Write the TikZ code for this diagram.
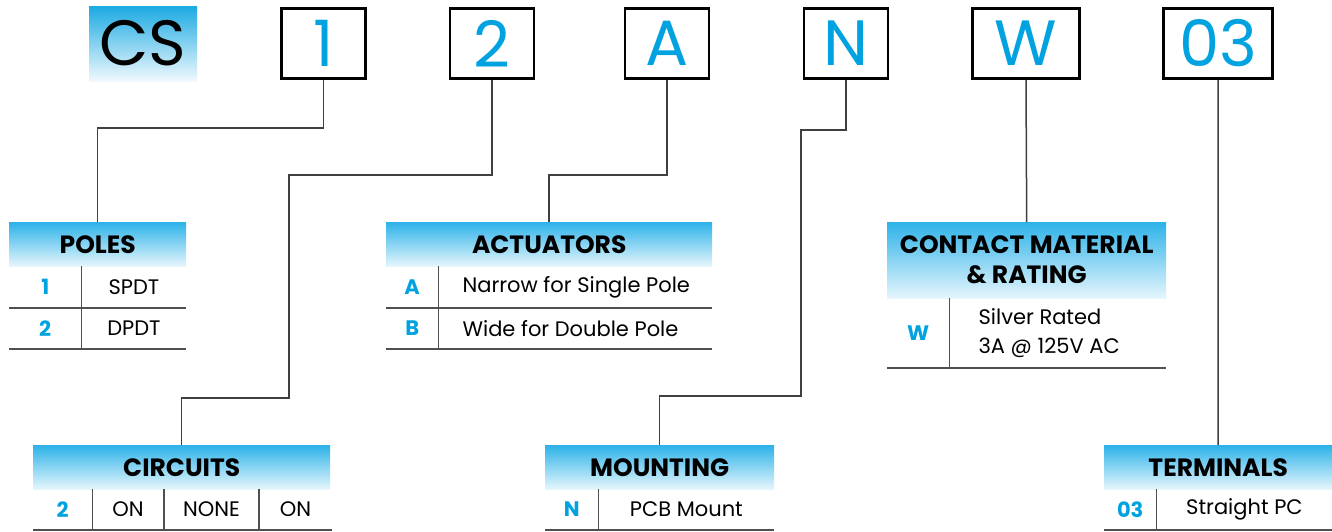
\documentclass[tikz,border=0pt]{standalone}
\usepackage{fontspec}
\setmainfont{Poppins}
\usetikzlibrary{calc}
\definecolor{codeblue}{RGB}{0,163,224}
\definecolor{headtop}{RGB}{45,178,232}
\definecolor{headbot}{RGB}{230,246,253}
\definecolor{cstop}{RGB}{27,170,226}
\definecolor{csbot}{RGB}{240,249,253}
\definecolor{wirecol}{RGB}{64,64,64}
\definecolor{rulecol}{RGB}{80,80,80}

\begin{document}
\begin{tikzpicture}[x=1pt,y=-1pt]

\tikzset{codebox/.style = {draw, line width=2.7pt, minimum width=84pt, minimum height=70pt, inner sep=0pt, text=codeblue, font=\fontsize{64}{64}\selectfont}}
\tikzset{csbox/.style = {minimum width=108pt, minimum height=75pt, inner sep=0pt, top color=cstop, bottom color=csbot, font=\fontsize{64}{64}\selectfont}}
\tikzset{head/.style = {anchor=north west, inner sep=0pt, top color=headtop, bottom color=headbot, font=\bfseries\fontsize{25}{30}\selectfont, align=center}}
\tikzset{cell/.style = {anchor=north west, inner sep=0pt, minimum height=41pt, font=\fontsize{21}{24}\selectfont}}
\tikzset{code/.style = {cell, text=codeblue, font=\bfseries\fontsize{21}{21}\selectfont}}
\tikzset{desc/.style = {inner sep=0pt, font=\fontsize{21}{29}\selectfont}}
\tikzset{wire/.style = {draw=wirecol, line width=1.5pt}}
\tikzset{rule/.style = {draw=rulecol, line width=1.8pt}}

\fill[white] (0,0) rectangle (1332,531);
\useasboundingbox (0,0) rectangle (1332,531);

%part number
\node[csbox] (cs) at (143,43.5) {CS};
\node[codebox] (b1) at (323.5,43.5) {1};
\node[codebox] (b2) at (492,43.5) {2};
\node[codebox] (bA) at (667,43.5) {A};
\node[codebox] (bN) at (846,43.5) {N};
\node[codebox, minimum width=107pt] (bW) at (1026,43.5) {W};
\node[codebox, minimum width=109pt] (b03) at (1218,43.5) {03};

%poles
\node[head, minimum width=177pt, minimum height=44pt] (poles) at (9,222) {POLES};
\node[code, minimum width=72pt] (p1) at (poles.south west) {1};
\node[code, minimum width=72pt] (p2) at (p1.south west) {2};
\node[desc] (p1t) at ($(p1.east)!0.5!(p1.east -| poles.east)$) {SPDT};
\node[desc] (p2t) at ($(p2.east)!0.5!(p2.east -| poles.east)$) {DPDT};
\draw[rule] (p1.south west) -- (p1.south west -| poles.east);
\draw[rule] (p2.south west) -- (p2.south west -| poles.east);
\draw[rule] (p1.north east) -- (p2.south east);

%actuators
\node[head, minimum width=326pt, minimum height=44pt] (actuators) at (386,222) {ACTUATORS};
\node[code, minimum width=52pt] (a1) at (actuators.south west) {A};
\node[code, minimum width=52pt] (a2) at (a1.south west) {B};
\node[desc, anchor=west] (a1t) at ($(a1.east)+(24,0)$) {Narrow for Single Pole};
\node[desc, anchor=west] (a2t) at ($(a2.east)+(24,0)$) {Wide for Double Pole};
\draw[rule] (a1.south west) -- (a1.south west -| actuators.east);
\draw[rule] (a2.south west) -- (a2.south west -| actuators.east);
\draw[rule] (a1.north east) -- (a2.south east);

%contact material
\node[head, minimum width=279pt, minimum height=76pt] (contact) at (887,222) {CONTACT MATERIAL\\\& RATING};
\node[code, minimum width=62pt, minimum height=69pt] (c1) at (contact.south west) {W};
\node[desc, anchor=west, align=left] (c1t) at ($(c1.east)+(29,0)$) {Silver Rated\\3A @ 125V AC};
\draw[rule] (c1.south west) -- (c1.south west -| contact.east);
\draw[rule] (c1.north east) -- (c1.south east);

%circuits
\node[head, minimum width=297pt, minimum height=44pt] (circuits) at (33,445) {CIRCUITS};
\node[code, minimum width=59pt, minimum height=40pt] (r1) at (circuits.south west) {2};
\node[cell, minimum width=71pt, minimum height=40pt] (r2) at (r1.north east) {ON};
\node[cell, minimum width=95pt, minimum height=40pt] (r3) at (r2.north east) {NONE};
\node[cell, minimum width=72pt, minimum height=40pt] (r4) at (r3.north east) {ON};
\draw[rule] (r1.south west) -- (r4.south east);
\draw[rule] (r1.north east) -- (r1.south east);
\draw[rule] (r2.north east) -- (r2.south east);
\draw[rule] (r3.north east) -- (r3.south east);

%mounting
\node[head, minimum width=229pt, minimum height=44pt] (mounting) at (545,445) {MOUNTING};
\node[code, minimum width=53pt, minimum height=40pt] (m1) at (mounting.south west) {N};
\node[desc] (m1t) at ($(m1.east)!0.5!(m1.east -| mounting.east)$) {PCB Mount};
\draw[rule] (m1.south west) -- (m1.south west -| mounting.east);
\draw[rule] (m1.north east) -- (m1.south east);

%terminals
\node[head, minimum width=228pt, minimum height=44pt] (terminals) at (1104,445) {TERMINALS};
\node[code, minimum width=52pt, minimum height=40pt] (t1) at (terminals.south west) {03};
\node[desc] (t1t) at ($(t1.east)!0.5!(t1.east -| terminals.east)$) {Straight PC};
\draw[rule] (t1.south west) -- (t1.south west -| terminals.east);
\draw[rule] (t1.north east) -- (t1.south east);

%connectors
\draw[wire] (b1.south) |- (poles.north |- 0,128) -- (poles.north);
\draw[wire] (b2.south) |- (289,175) |- (circuits.north |- 0,398) -- (circuits.north);
\draw[wire] (bA.south) |- (actuators.north |- 0,175) -- (actuators.north);
\draw[wire] (bN.south) |- (801,130) |- (mounting.north |- 0,396) -- (mounting.north);
\draw[wire] (bW.south) -- (contact.north);
\draw[wire] (b03.south) -- (terminals.north);

\end{tikzpicture}
\end{document}
